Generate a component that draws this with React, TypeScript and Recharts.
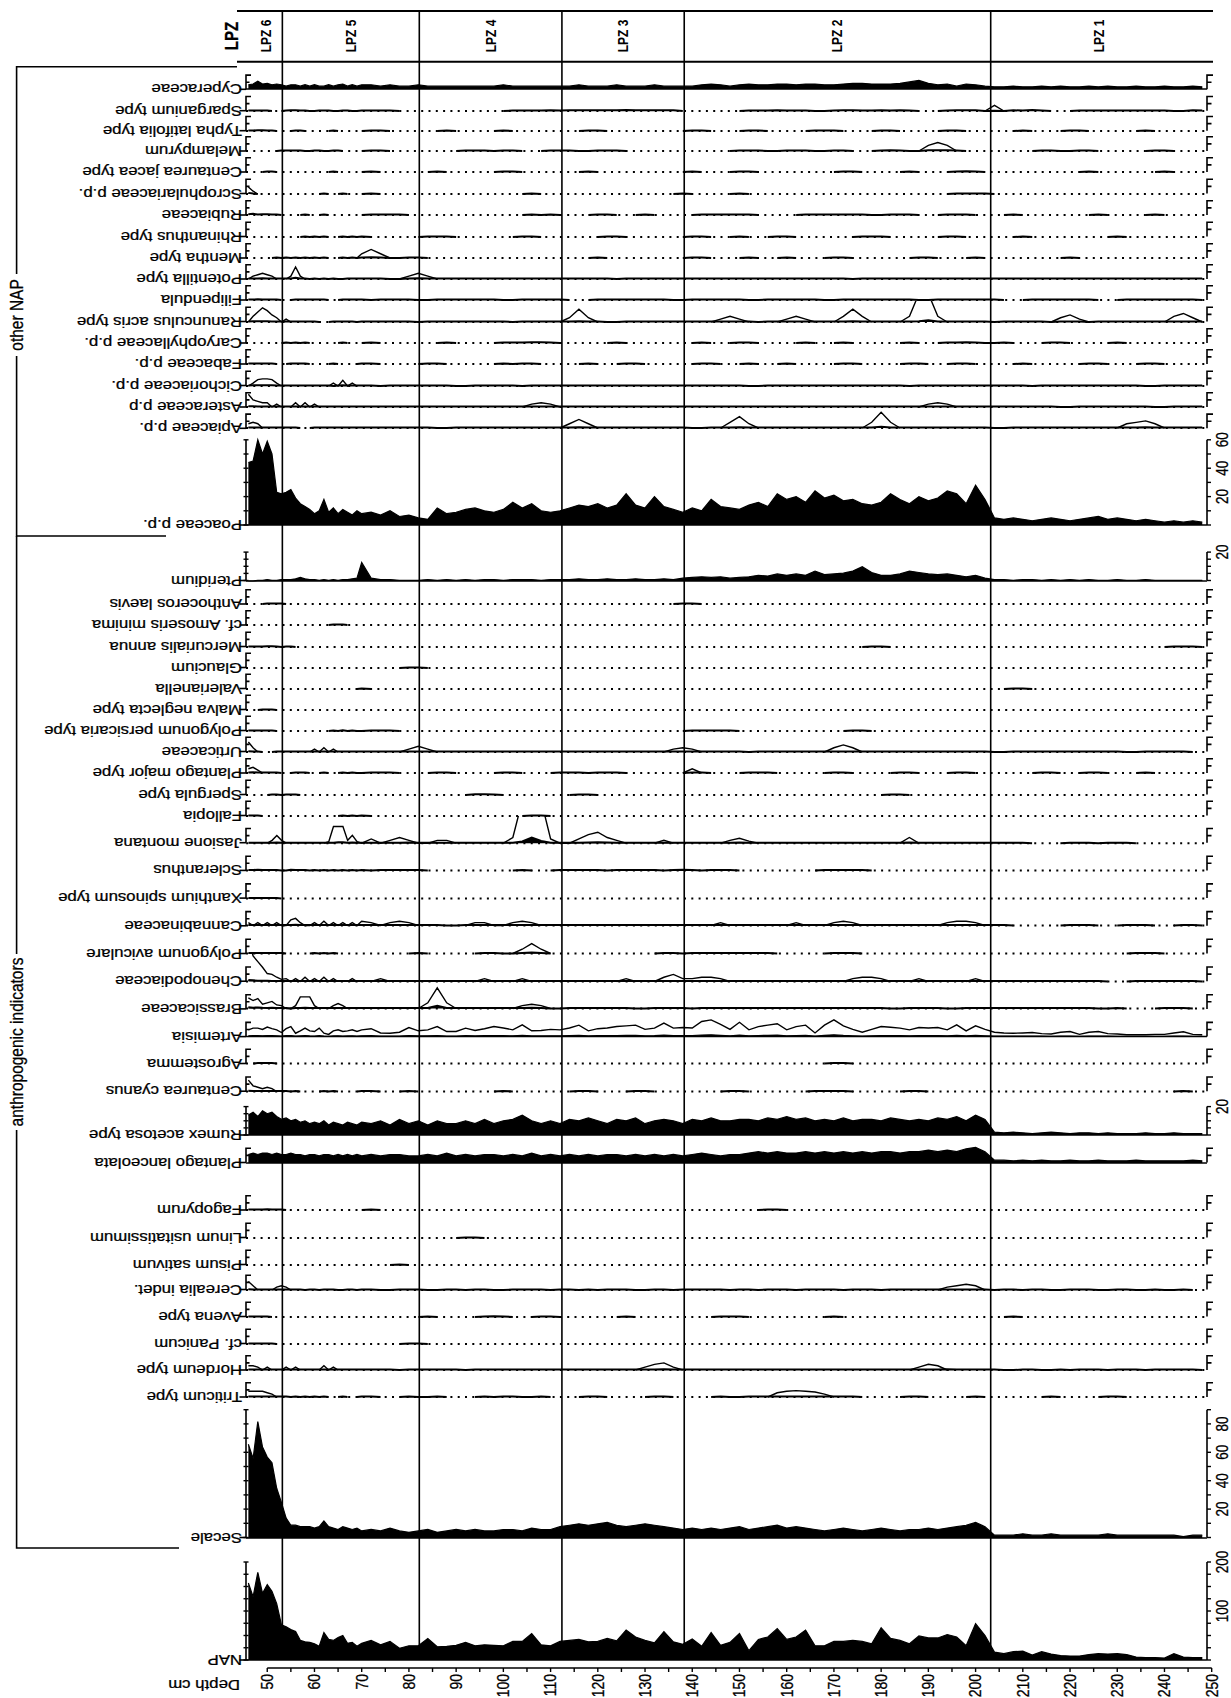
import React from "react";
import { AreaChart, Area, ComposedChart, XAxis, YAxis, ReferenceLine, ReferenceDot } from "recharts";

const FONT = '"Liberation Sans", Arial, Helvetica, sans-serif';
const SX = 1.2; // the figure is stretched horizontally
const W = 1231;
const H = 1698;
const LEFT_M = 246;
const RIGHT_M = 19.3;
const X_DOMAIN: [number, number] = [45.5, 250];
const LAST_DEPTH = 249;
const PCT = 1.42; // px per percent
const PAD = 3;
const AXIS_Y = 1668;

// sample depths (cm)
const DEPTHS = [
  46, 47, 48, 49, 50, 51, 52, 53, 54, 55, 56, 57, 58, 59, 60, 61, 62, 63, 64, 65, 66, 67, 68, 69, 70,
  72, 74, 76, 78, 80, 82, 84, 86, 88, 90, 92, 94, 96, 98, 100, 102, 104, 106, 108, 110,
  112, 114, 116, 118, 120, 122, 124, 126, 128, 130, 132, 134, 136, 138, 140, 142, 144, 146, 148, 150,
  152, 154, 156, 158, 160, 162, 164, 166, 168, 170, 172, 174, 176, 178, 180, 182, 184, 186, 188, 190,
  192, 194, 196, 198, 200, 202, 204, 206, 208, 210, 212, 214, 216, 218, 220, 222, 224, 226, 228, 230,
  232, 234, 236, 238, 240, 242, 244, 246, 248,
];

const DEPTH_TICKS = [
  50, 55, 60, 65, 70, 75, 80, 85, 90, 95, 100, 105, 110, 115, 120, 125, 130, 135, 140, 145, 150,
  155, 160, 165, 170, 175, 180, 185, 190, 195, 200, 205, 210, 215, 220, 225, 230, 235, 240, 245, 250,
];

const ZONE_BOUNDS = [53.2, 82.2, 112.4, 138.3, 203.2];
const ZONE_MIDS = [49.7, 67.7, 97.3, 125.3, 170.7, 226.1];
const ZONE_NAMES = ["LPZ 6", "LPZ 5", "LPZ 4", "LPZ 3", "LPZ 2", "LPZ 1"];

// ---------- continuous curves (one value per sample depth) ----------
const nap = [
  157, 129, 179, 136, 154, 140, 115, 72, 68, 62, 58, 40, 37, 36, 33, 28, 56, 42, 40, 46, 50, 34, 36, 28, 34,
  40, 31, 38, 24, 29, 29, 44, 27, 28, 30, 36, 29, 31, 30, 29, 38, 38, 54, 31, 29,
  38, 40, 42, 37, 38, 44, 39, 61, 47, 40, 35, 58, 37, 32, 43, 28, 56, 30, 36, 54,
  19, 42, 47, 64, 42, 47, 61, 29, 29, 38, 38, 40, 38, 33, 66, 44, 40, 33, 49, 45,
  45, 52, 47, 29, 74, 50, 16, 13, 17, 18, 10, 17, 12, 9, 8, 8, 11, 13, 12, 13,
  11, 6, 5, 5, 4, 13, 6, 5, 5,
];

const secale = [
  66, 56, 82, 64, 57, 53, 35, 25, 14, 9, 9, 8, 8, 8, 7, 8, 12, 8, 7, 6, 8, 7, 6, 7, 5,
  6, 5, 7, 5, 4, 5, 6, 4, 5, 6, 5, 6, 5, 5, 6, 6, 5, 7, 6, 6,
  8, 9, 10, 9, 10, 11, 9, 8, 9, 10, 9, 8, 7, 6, 7, 6, 7, 6, 7, 8,
  6, 7, 8, 9, 7, 8, 7, 6, 5, 6, 7, 6, 5, 6, 7, 6, 5, 6, 6, 7,
  6, 7, 8, 9, 11, 8, 2, 2, 2, 3, 2, 2, 3, 2, 2, 2, 2, 2, 3, 2,
  2, 2, 2, 2, 2, 2, 1, 2, 2,
];

const poaceae = [
  44, 45, 60, 50, 59, 50, 23, 22, 23, 25, 19, 15, 13, 11, 8, 10, 18, 9, 12, 8, 11, 9, 7, 10, 8,
  9, 7, 10, 6, 7, 5, 4, 12, 8, 9, 11, 12, 10, 9, 11, 16, 12, 15, 10, 9,
  10, 12, 14, 13, 15, 12, 14, 22, 14, 12, 20, 13, 11, 9, 12, 10, 18, 13, 12, 11,
  14, 16, 13, 22, 18, 20, 16, 24, 19, 21, 17, 18, 15, 14, 16, 22, 18, 15, 20, 17,
  19, 24, 22, 15, 28, 18, 5, 4, 5, 4, 3, 4, 5, 4, 3, 4, 5, 6, 4, 5,
  4, 3, 4, 3, 2, 3, 2, 3, 2,
];

const pteridium = [
  0, 0, 0.5, 0.5, 1, 0.5, 0.5, 1, 1, 1, 1.5, 2.5, 1.5, 1, 1, 0.5, 1, 0.5, 1, 0.5, 1, 1, 1.5, 2, 13,
  2, 1, 1, 0.5, 0.5, 0.5, 1, 0.5, 1, 0.5, 1, 0.5, 1, 1, 0.5, 1, 1, 1, 0.5, 1,
  1, 1, 1.5, 1, 1, 1.5, 1, 1, 1.5, 1, 1, 1.5, 1, 2, 2.5, 3, 2.5, 3, 2, 2.5,
  3, 4, 3.5, 5, 4, 5, 4, 7, 4.5, 5, 5.5, 7, 10, 6, 4, 4, 5, 7, 6, 5,
  4.5, 5, 4, 3, 4, 2, 1, 1, 0.5, 1, 1, 0.5, 1, 0.5, 1, 0.5, 1, 0.5, 0.5, 1,
  0.5, 0.5, 1, 0.5, 0.5, 0.5, 0.5, 0.5, 0.5,
];

const rumex = [
  14, 16, 13, 17, 15, 16, 13, 11, 12, 10, 11, 9, 10, 8, 9, 8, 10, 7, 9, 8, 7, 9, 8, 7, 9,
  8, 10, 7, 11, 8, 10, 7, 10, 8, 8, 10, 8, 11, 8, 10, 11, 14, 10, 8, 10,
  8, 11, 10, 12, 10, 8, 11, 10, 12, 8, 10, 11, 10, 8, 11, 10, 12, 10, 10, 11,
  11, 10, 12, 11, 13, 11, 12, 10, 11, 10, 12, 10, 11, 11, 10, 12, 11, 10, 11, 10,
  12, 11, 13, 10, 14, 11, 2, 1.5, 2, 1.5, 1, 1.5, 2, 1.5, 1, 1.5, 1.5, 1, 1.5, 1,
  1, 1, 1.5, 1, 1, 1.5, 1, 1, 1,
];

const plantagoLanc = [
  6, 7, 6, 7, 7, 6, 7, 6, 6, 7, 6, 6, 5, 6, 6, 5, 6, 6, 5, 6, 5, 6, 5, 6, 5,
  6, 5, 6, 6, 5, 5, 6, 5, 7, 5, 6, 5, 6, 6, 5, 6, 5, 7, 5, 6,
  5, 6, 5, 6, 5, 6, 6, 5, 6, 5, 6, 5, 6, 5, 6, 7, 6, 5, 6, 6,
  7, 8, 7, 8, 7, 7, 8, 7, 8, 7, 8, 7, 8, 7, 8, 8, 7, 8, 8, 9,
  8, 9, 8, 10, 11, 8, 2, 2, 1.5, 2, 1.5, 2, 1.5, 1.5, 2, 1.5, 1.5, 2, 1.5, 1.5,
  1.5, 2, 1.5, 1.5, 1.5, 1.5, 1.5, 2, 1.5,
];

const cyperaceae = [
  3, 3.5, 5.5, 3.5, 4, 3, 3.5, 3, 2, 3, 3, 2, 3, 2, 3, 2, 2, 3, 2, 3, 3.5, 2, 3, 2, 3,
  3, 2, 3, 2, 2, 3, 2, 2, 2, 2, 2, 2, 2, 2, 3, 2, 2, 2, 2, 2,
  2, 2, 3, 2, 2, 2, 3, 2, 2, 2, 3, 2, 2, 2, 2, 3, 3.5, 3, 2, 3,
  3.5, 3, 3, 3.5, 3.5, 3, 3.5, 3.5, 3, 3, 3.5, 4, 4, 3.5, 3.5, 3.5, 4, 5, 6, 4,
  3, 3.5, 2, 3.5, 3, 2, 1.5, 1.5, 2, 1.5, 1.5, 2, 1.5, 2, 1.5, 1.5, 2, 1.5, 2, 1.5,
  1.5, 2, 1.5, 1.5, 2, 1.5, 1.5, 2, 1.5,
];

const artemisia = [
  0.47, 0.59, 0.59, 0.5, 0.66, 0.55, 0.47, 0.28, 0.55, 0.7, 0.23, 0.4, 0.59, 0.4, 0.35, 0.59, 0.23, 0.15, 0.4, 0.47, 0.35, 0.4, 0.47, 0.35, 0.47,
  0.55, 0.25, 0.23, 0.3, 0.63, 0.4, 0.47, 0.7, 0.35, 0.35, 0.59, 0.42, 0.55, 0.7, 0.6, 0.47, 0.82, 0.4, 0.42, 0.5,
  0.47, 0.6, 0.8, 0.4, 0.55, 0.6, 0.7, 0.75, 0.8, 0.5, 0.59, 0.94, 0.59, 0.63, 0.6, 1.06, 1.17, 0.85, 0.5, 1.0,
  0.47, 0.7, 0.8, 0.9, 0.47, 0.7, 0.8, 0.25, 0.8, 1.17, 0.75, 0.5, 0.3, 0.5, 0.7, 0.65, 0.59, 0.47, 0.63, 0.6,
  0.63, 0.47, 0.82, 0.4, 0.75, 0.5, 0.3, 0.25, 0.23, 0.25, 0.28, 0.2, 0.18, 0.3, 0.35, 0.15, 0.3, 0.35, 0.2, 0.18,
  0.12, 0.12, 0.12, 0.15, 0.15, 0.25, 0.33, 0.15, 0.12,
];

// ---------- low-value taxa, full sample lists (0 = not found) ----------
const potentilla = [
  0.3, 0.4, 0.3, 0.5, 0.4, 0.3, 0.3, 0.3, 0.3, 0.4, 0.8, 0.4, 0.3, 0, 0.3, 0, 0.3, 0, 0.3, 0, 0, 0.3, 0.3, 0.3, 0.3,
  0.3, 0.3, 0, 0, 0.3, 0.5, 0.3, 0.3, 0.3, 0.3, 0.3, 0.3, 0.3, 0.3, 0.3, 0.3, 0.3, 0.3, 0.3, 0.3,
  0.3, 0.3, 0.3, 0.3, 0.3, 0.3, 0, 0.3, 0.3, 0.3, 0.3, 0.3, 0.3, 0.3, 0.3, 0.3, 0.3, 0.3, 0.3, 0.3,
  0.3, 0.3, 0.3, 0.3, 0.3, 0.3, 0.3, 0.3, 0.3, 0.3, 0.3, 0, 0.3, 0.3, 0.3, 0.3, 0.3, 0.3, 0.3, 0.3,
  0.3, 0.3, 0.3, 0.3, 0.3, 0.3, 0.3, 0.3, 0.3, 0.3, 0.3, 0.3, 0.3, 0.3, 0.3, 0.3, 0.3, 0.3, 0.3, 0.3,
  0.3, 0.3, 0.3, 0.3, 0.3, 0.3, 0.3, 0.3, 0.3,
];
const filipendula = [
  0.3, 0.3, 0.5, 0.3, 0.3, 0.3, 0.3, 0, 0, 0, 0.3, 0.3, 0.3, 0.3, 0.3, 0.3, 0.3, 0, 0, 0, 0.3, 0.3, 0.3, 0.3, 0.3,
  0, 0.3, 0.3, 0.3, 0.3, 0, 0, 0.3, 0.3, 0.3, 0.3, 0.3, 0.3, 0.3, 0, 0, 0.3, 0.3, 0.3, 0.3,
  0.3, 0, 0, 0, 0.3, 0.3, 0.3, 0.3, 0.3, 0.3, 0.3, 0.3, 0, 0, 0.3, 0.3, 0.3, 0.3, 0.3, 0.3,
  0, 0, 0.3, 0.3, 0.3, 0.3, 0.3, 0.3, 0, 0, 0.3, 0.3, 0.3, 0.3, 0.3, 0.3, 0.3, 0.3, 0, 0,
  0.3, 0.3, 0.3, 0.3, 0.3, 0.3, 0.3, 0, 0, 0, 0.3, 0.3, 0.3, 0.3, 0.3, 0.3, 0.3, 0, 0, 0,
  0.3, 0.3, 0.3, 0.3, 0.3, 0.3, 0.3, 0.3, 0,
];
const ranunculus = [
  0.4, 0.5, 0.6, 0.5, 0.5, 0.4, 0.4, 0.3, 0.3, 0.3, 0.4, 0.3, 0.3, 0.3, 0.3, 0, 0, 0, 0.3, 0.3, 0.3, 0.3, 0.3, 0, 0.3,
  0.3, 0.3, 0.3, 0.3, 0.3, 0, 0.3, 0.3, 0.3, 0.3, 0.3, 0.3, 0.3, 0.3, 0.3, 0, 0.3, 0.3, 0.3, 0.3,
  0.3, 0.3, 0.5, 0.3, 0.3, 0, 0, 0.3, 0.3, 0.3, 0.3, 0.3, 0.3, 0.3, 0.3, 0.3, 0.3, 0.3, 0.3, 0.4,
  0.3, 0, 0.3, 0.3, 0.3, 0.3, 0.3, 0.4, 0.3, 0.3, 0.3, 0.5, 0.4, 0.3, 0.3, 0.3, 0.3, 0.3, 0.6, 1.2,
  0.4, 0.3, 0.3, 0.3, 0.3, 0.3, 0, 0.3, 0.3, 0.3, 0.3, 0.3, 0, 0.3, 0.4, 0.3, 0, 0.3, 0.3, 0.3,
  0.3, 0.3, 0.3, 0.3, 0.3, 0.3, 0.4, 0.3, 0.3,
];
const cichoriaceae = [
  0.4, 0.5, 0.6, 0.6, 0.6, 0.5, 0.4, 0.4, 0.4, 0.3, 0.3, 0.3, 0.4, 0.3, 0.3, 0.3, 0.3, 0.3, 0, 0.4, 0.5, 0.4, 0.3, 0.3, 0.3,
  0.3, 0, 0.3, 0.3, 0.3, 0.3, 0.3, 0.3, 0.3, 0, 0, 0.3, 0.3, 0.3, 0.3, 0.3, 0, 0.3, 0.3, 0.3,
  0.3, 0.3, 0.3, 0.3, 0.3, 0.3, 0.3, 0.3, 0.3, 0.3, 0.3, 0.3, 0.3, 0.3, 0.3, 0.3, 0.3, 0.3, 0.3, 0.3,
  0, 0, 0.3, 0.3, 0.3, 0.3, 0.3, 0.3, 0.3, 0.3, 0.3, 0.3, 0.3, 0.3, 0.3, 0.3, 0.3, 0, 0.3, 0.3,
  0.3, 0.3, 0.3, 0.3, 0.3, 0.3, 0.3, 0.3, 0.3, 0.3, 0, 0.3, 0.3, 0.3, 0.3, 0.3, 0.3, 0.3, 0.3, 0.3,
  0.3, 0.3, 0, 0, 0.3, 0.3, 0.3, 0.3, 0.3,
];
const asteraceae = [
  0.6, 0.5, 0.4, 0.4, 0.4, 0.4, 0.3, 0.3, 0.3, 0.3, 0.4, 0.3, 0.4, 0.3, 0.3, 0.3, 0.3, 0.3, 0.3, 0.3, 0.3, 0.3, 0.3, 0.3, 0.3,
  0.3, 0.3, 0.3, 0.3, 0.3, 0.3, 0.3, 0.3, 0.3, 0.3, 0.3, 0.3, 0.3, 0.3, 0.3, 0.3, 0.3, 0.4, 0.3, 0.3,
  0.3, 0.3, 0.3, 0.3, 0.3, 0.3, 0.3, 0.3, 0.3, 0.3, 0.3, 0.3, 0.3, 0.3, 0.3, 0.3, 0.3, 0.3, 0.3, 0.3,
  0.3, 0.3, 0.3, 0.3, 0.3, 0.3, 0.3, 0.3, 0.3, 0.3, 0.3, 0.3, 0.3, 0.3, 0.3, 0.3, 0.3, 0.3, 0.3, 0.4,
  0.4, 0.3, 0.3, 0.3, 0.3, 0.3, 0.3, 0.3, 0.3, 0.3, 0.3, 0.3, 0.3, 0, 0, 0.3, 0.3, 0.3, 0.3, 0.3,
  0.3, 0.3, 0.3, 0, 0, 0.3, 0.3, 0.3, 0.3,
];
const apiaceae = [
  0.3, 0.4, 0.3, 0.3, 0.3, 0.3, 0.3, 0.3, 0.3, 0.3, 0.3, 0, 0, 0, 0.3, 0.3, 0.3, 0.3, 0.3, 0.3, 0.3, 0.3, 0.3, 0.3, 0.3,
  0.3, 0.3, 0.3, 0.3, 0.3, 0.3, 0.3, 0, 0, 0.3, 0.3, 0.3, 0.3, 0.3, 0.3, 0.3, 0.3, 0.3, 0.3, 0.3,
  0.3, 0.3, 0.5, 0.3, 0.3, 0.3, 0.3, 0.3, 0.3, 0.3, 0.3, 0.3, 0.3, 0.3, 0, 0, 0.3, 0.3, 0.3, 0.5,
  0.3, 0.3, 0.3, 0.3, 0.3, 0.3, 0.3, 0.3, 0.3, 0.3, 0.3, 0.3, 0.3, 0.3, 0.8, 0.3, 0.3, 0.3, 0.3, 0.3,
  0.3, 0.3, 0.3, 0.3, 0.3, 0.3, 0, 0, 0.3, 0.3, 0.3, 0.3, 0.3, 0.3, 0.3, 0.3, 0.3, 0.3, 0.3, 0.3,
  0.3, 0.3, 0.5, 0.3, 0.3, 0.3, 0.3, 0.3, 0.3,
];
const urticaceae = [
  0.6, 0.4, 0.3, 0, 0, 0, 0.3, 0.3, 0.3, 0.3, 0.3, 0.3, 0.3, 0.3, 0.3, 0.3, 0.4, 0.3, 0.3, 0.3, 0.3, 0.3, 0.3, 0.3, 0.3,
  0.3, 0.3, 0.3, 0.3, 0.3, 0.4, 0.3, 0.3, 0.3, 0.3, 0.3, 0.3, 0.3, 0.3, 0.3, 0.3, 0.3, 0.3, 0.3, 0.3,
  0.3, 0.3, 0.3, 0.3, 0.3, 0.3, 0.3, 0.3, 0.3, 0.3, 0.3, 0.3, 0.4, 0.3, 0.3, 0.3, 0.3, 0.3, 0.3, 0.3,
  0, 0.3, 0.3, 0.3, 0.3, 0.3, 0.3, 0.3, 0.3, 0.3, 0.4, 0.3, 0.3, 0.3, 0.3, 0.3, 0.3, 0.3, 0.3, 0.3,
  0.3, 0.3, 0.3, 0.3, 0.3, 0.3, 0, 0, 0.3, 0.3, 0.3, 0.3, 0.3, 0.3, 0.3, 0.3, 0.3, 0.3, 0.3, 0.3,
  0, 0, 0.3, 0.3, 0.3, 0.3, 0.3, 0, 0,
];
const jasione = [
  0.3, 0.3, 0.3, 0.3, 0.3, 0.3, 0.5, 0.3, 0.3, 0.3, 0.3, 0.3, 0.3, 0.3, 0.3, 0.3, 0.3, 0.3, 0.3, 0.6, 0.6, 0.3, 0.5, 0.3, 0.3,
  0.3, 0.3, 0.3, 0.3, 0.4, 0.3, 0.3, 0.3, 0.3, 0.3, 0.3, 0.3, 0.3, 0.3, 0.3, 0.3, 1.2, 4, 1.5, 0.3,
  0.3, 0.3, 0.3, 0.4, 0.6, 0.4, 0.3, 0.3, 0.3, 0.3, 0.3, 0.3, 0.3, 0.3, 0.3, 0.3, 0.3, 0.3, 0.3, 0.4,
  0.3, 0.3, 0.3, 0.3, 0.3, 0.3, 0.3, 0.3, 0.3, 0.3, 0.3, 0.3, 0.3, 0.3, 0.3, 0.3, 0.3, 0.4, 0.3, 0.3,
  0.3, 0.3, 0.3, 0.3, 0.3, 0.3, 0.3, 0.3, 0.3, 0.3, 0, 0, 0, 0, 0.3, 0.3, 0.3, 0, 0.3, 0.3,
  0.3, 0, 0, 0, 0, 0, 0, 0, 0,
];
const cannabinaceae = [
  0.3, 0.3, 0.3, 0.3, 0.3, 0.3, 0.3, 0.3, 0.3, 0.4, 0.5, 0.3, 0.3, 0.3, 0.3, 0.3, 0.3, 0.3, 0.3, 0.3, 0.3, 0.3, 0.3, 0.3, 0.3,
  0.3, 0.3, 0.3, 0.3, 0.3, 0.3, 0.3, 0.3, 0, 0, 0.3, 0.3, 0.3, 0.3, 0.3, 0.3, 0.3, 0.3, 0.3, 0.3,
  0.3, 0.3, 0.3, 0.3, 0.3, 0.3, 0.3, 0.3, 0.3, 0.3, 0.3, 0.3, 0.3, 0.3, 0.3, 0.3, 0.3, 0.3, 0.3, 0.3,
  0.3, 0.3, 0.3, 0.3, 0.3, 0.3, 0.3, 0.3, 0.3, 0.3, 0.3, 0.3, 0.3, 0.3, 0.3, 0.3, 0.3, 0.3, 0.3, 0.3,
  0.3, 0.3, 0.3, 0.3, 0.3, 0.3, 0.3, 0.3, 0, 0, 0, 0, 0, 0, 0.3, 0.3, 0.3, 0, 0, 0,
  0.3, 0.3, 0.3, 0, 0, 0, 0.3, 0.3, 0,
];
const chenopodiaceae = [
  1, 0.8, 0.6, 0.5, 0.5, 0.4, 0.4, 0.3, 0.3, 0.3, 0.4, 0.3, 0.3, 0.3, 0.3, 0.3, 0.3, 0.3, 0.3, 0.3, 0.3, 0.3, 0.3, 0.3, 0.3,
  0.3, 0.3, 0.3, 0.3, 0.3, 0.3, 0.3, 0.3, 0.3, 0.3, 0.3, 0.3, 0.3, 0.3, 0.3, 0.3, 0.3, 0.3, 0.3, 0.3,
  0.3, 0.3, 0.3, 0.3, 0.3, 0.3, 0.3, 0.3, 0.3, 0.3, 0.3, 0.3, 0.4, 0.3, 0.3, 0.3, 0.4, 0.3, 0.3, 0.3,
  0.3, 0.3, 0.3, 0.3, 0.3, 0.3, 0.3, 0.3, 0.3, 0.3, 0.3, 0.3, 0.3, 0.3, 0.3, 0.3, 0.3, 0.3, 0.3, 0.3,
  0.3, 0.3, 0.3, 0.3, 0.3, 0.3, 0.3, 0.3, 0.3, 0.3, 0.3, 0.3, 0.3, 0.3, 0.3, 0.3, 0.3, 0.3, 0, 0,
  0, 0.3, 0.3, 0.3, 0.3, 0.3, 0.3, 0.3, 0,
];
const brassicaceae = [
  0.8, 0.6, 0.7, 0.5, 0.4, 0.5, 0.4, 0.3, 0.3, 0, 0.3, 0.4, 0.5, 0.4, 0.3, 0.3, 0.3, 0.3, 0.3, 0.4, 0.3, 0.3, 0.3, 0.3, 0.3,
  0.3, 0.3, 0.3, 0.3, 0.3, 0.3, 0.4, 2, 0.4, 0.3, 0.3, 0.3, 0.3, 0.3, 0.3, 0.3, 0.3, 0.5, 0.3, 0,
  0, 0.3, 0.3, 0.3, 0.3, 0.3, 0.3, 0.3, 0, 0, 0.3, 0.3, 0.3, 0.3, 0, 0.3, 0.3, 0.3, 0.3, 0.3,
  0.3, 0.3, 0.3, 0.3, 0.3, 0.3, 0.3, 0.3, 0.3, 0.3, 0.3, 0.3, 0.3, 0.3, 0.3, 0, 0, 0.3, 0.3, 0.3,
  0.3, 0, 0, 0.3, 0.3, 0.3, 0.3, 0.3, 0.3, 0.3, 0.3, 0.3, 0.3, 0.3, 0.3, 0.3, 0.3, 0, 0, 0.3,
  0, 0, 0, 0, 0.3, 0.4, 0.3, 0, 0,
];
const cerealia = [
  0.5, 0.4, 0.3, 0.3, 0.3, 0.3, 0.3, 0.4, 0.3, 0.3, 0.3, 0.3, 0, 0.3, 0.3, 0, 0.3, 0.3, 0.3, 0, 0, 0.3, 0.3, 0, 0.3,
  0.3, 0, 0, 0.3, 0.3, 0.3, 0, 0, 0.3, 0.3, 0, 0.3, 0.3, 0, 0, 0.3, 0.4, 0.3, 0.3, 0,
  0.3, 0.3, 0, 0.3, 0, 0.3, 0.3, 0.3, 0, 0, 0.3, 0.3, 0, 0.3, 0.3, 0.3, 0.3, 0.3, 0, 0.3,
  0.3, 0, 0.3, 0.3, 0.3, 0, 0.3, 0.3, 0.3, 0.3, 0, 0.3, 0.3, 0.3, 0, 0.3, 0.3, 0.3, 0.3, 0.3,
  0.3, 0.3, 0.3, 0.3, 0.4, 0.3, 0, 0.3, 0.3, 0, 0.3, 0.3, 0, 0, 0.3, 0.3, 0.3, 0, 0, 0.3,
  0.3, 0, 0, 0.3, 0, 0, 0.3, 0, 0,
];
const hordeum = [
  0.4, 0.4, 0.3, 0.3, 0.3, 0.3, 0.3, 0.3, 0.3, 0.3, 0.3, 0.3, 0.3, 0.3, 0.3, 0.3, 0.4, 0.3, 0.3, 0.3, 0.3, 0.3, 0.3, 0.3, 0.3,
  0.3, 0.3, 0.3, 0, 0.3, 0.3, 0.3, 0.3, 0.3, 0.3, 0, 0.3, 0.3, 0.3, 0.3, 0.3, 0.3, 0.3, 0.3, 0.3,
  0.3, 0.3, 0.3, 0.3, 0.3, 0.3, 0.3, 0.3, 0.3, 0.3, 0.4, 0.5, 0.3, 0.3, 0.3, 0.3, 0.3, 0.3, 0.3, 0.3,
  0.3, 0.3, 0.3, 0.3, 0.3, 0.3, 0.3, 0.3, 0.3, 0.3, 0.3, 0.3, 0.3, 0.3, 0.3, 0.3, 0.3, 0.3, 0.4, 0.3,
  0.3, 0.5, 0.3, 0.3, 0.3, 0.3, 0.3, 0, 0, 0.3, 0.3, 0, 0, 0.3, 0, 0.3, 0.3, 0.3, 0, 0.3,
  0.3, 0.3, 0, 0.3, 0.3, 0.3, 0.3, 0.3, 0,
];

// ---------- rare taxa: [depth, %] where found ----------
const sparganiumP = [[46,.3],[47,.4],[48,.3],[49,.3],[50,.3],[54,.3],[55,.5],[56,.6],[57,.4],[58,.3],[61,.3],[62,.3],[63,.3],[66,.3],[67,.3],[70,.3],[72,.3],[74,.3],[76,.3],[102,.3],[104,.4],[106,.4],[108,.3],[110,.5],[112,.4],[114,.5],[116,.6],[118,.5],[120,.5],[122,.6],[124,.6],[126,.7],[128,.6],[130,.5],[132,.5],[134,.6],[136,.5],[152,.3],[154,.4],[156,.4],[158,.5],[160,.4],[162,.4],[164,.4],[170,.4],[172,.5],[174,.5],[176,.4],[178,.4],[180,.5],[182,.4],[184,.5],[186,.4],[194,.4],[196,.5],[198,.5],[200,.6],[204,.2],[208,.5],[210,.3],[212,.7],[214,.4],[222,.3],[224,.3],[226,.4],[228,.4],[230,.3],[232,.3],[234,.4],[236,.3],[238,.3],[240,.3],[246,.5],[248,.3]];
const typhaP = [[46,.3],[47,.4],[48,.6],[49,.5],[50,.4],[51,.3],[56,.3],[57,.3],[64,.3],[72,.3],[74,.3],[88,.3],[100,.3],[118,.3],[120,.3],[140,.3],[142,.3],[152,.3],[154,.3],[166,.3],[168,.3],[170,.3],[180,.3],[182,.3],[194,.3],[196,.3],[210,.3],[220,.3],[222,.3],[236,.3]];
const melampyrumP = [[53,.3],[54,.3],[55,.3],[56,.4],[57,.3],[60,.3],[61,.3],[64,.4],[65,.3],[72,.4],[74,.3],[92,.3],[94,.4],[96,.3],[100,.4],[102,.3],[110,.3],[112,.4],[114,.3],[120,.4],[122,.4],[124,.3],[150,.3],[152,.4],[154,.4],[160,.3],[162,.4],[164,.3],[170,.3],[172,.3],[180,.4],[182,.5],[184,.4],[190,.5],[192,.6],[194,.5],[196,.4],[214,.3],[216,.3],[222,.4],[224,.3],[238,.3],[240,.4]];
const centJaceaP = [[50,.4],[51,.3],[64,.3],[72,.3],[86,.3],[100,.3],[102,.3],[118,.3],[140,.3],[150,.3],[152,.3],[172,.3],[174,.3],[186,.3],[196,.4],[198,.5],[200,.4],[224,.3],[240,.3]];
const scrophP = [[46,.8],[47,.3],[62,.3],[66,.3],[72,.3],[106,.3],[138,.3],[150,.3],[196,.3],[198,.4],[200,.4],[202,.3]];
const rubiaceaeP = [[46,.5],[47,.8],[48,.4],[49,.5],[50,.6],[51,.4],[52,.3],[58,.3],[62,.3],[72,.3],[74,.3],[76,.4],[78,.3],[106,.3],[110,.3],[120,.3],[122,.3],[130,.3],[142,.3],[144,.3],[146,.3],[148,.3],[150,.3],[152,.3],[164,.3],[166,.4],[168,.3],[170,.3],[172,.3],[174,.3],[176,.3],[182,.3],[184,.3],[186,.3],[194,.3],[196,.3],[198,.3],[208,.3],[226,.3],[238,.3]];
const rhinanthusP = [[58,.3],[60,.3],[62,.3],[66,.3],[68,.3],[70,.3],[84,.3],[86,.3],[88,.3],[104,.3],[106,.3],[122,.3],[124,.3],[140,.3],[142,.3],[150,.3],[158,.3],[160,.3],[176,.3],[178,.3],[180,.3],[194,.3],[196,.3],[210,.3],[230,.3]];
const menthaP = [[52,.3],[54,.3],[56,.3],[58,.3],[60,.3],[62,.3],[66,.3],[68,.3],[70,.4],[72,.5],[74,.3],[80,.3],[82,.3],[120,.3],[140,.3],[142,.3],[152,.3],[160,.3],[170,.3],[172,.3],[188,.3],[190,.3],[200,.3],[220,.3]];
const caryoP = [[54,.3],[56,.4],[58,.3],[66,.3],[72,.3],[88,.3],[100,.3],[102,.3],[104,.4],[106,.5],[108,.5],[110,.3],[124,.3],[142,.3],[150,.3],[152,.3],[164,.3],[172,.3],[186,.3],[194,.3],[196,.4],[198,.5],[200,.4],[206,.3],[216,.3],[218,.3],[230,.3]];
const fabaceaeP = [[46,.3],[47,.3],[48,.3],[49,.3],[50,.3],[51,.3],[55,.3],[56,.3],[57,.3],[58,.3],[64,.3],[70,.3],[72,.3],[84,.3],[86,.3],[100,.3],[104,.3],[106,.3],[118,.3],[126,.3],[128,.3],[142,.3],[144,.3],[152,.3],[160,.3],[172,.3],[174,.3],[186,.3],[188,.3],[196,.4],[198,.3],[210,.3],[224,.3],[226,.3],[236,.3],[238,.3]];
const anthocerosP = [[50,.3],[51,.3],[52,.3],[53,.3],[138,.3],[140,.3]];
const amoserisP = [[64,.3],[65,.3],[66,.3]];
const mercurialisP = [[46,.3],[47,.3],[48,.3],[49,.4],[50,.6],[51,.5],[52,.3],[54,.3],[55,.3],[178,.3],[180,.3],[242,.3],[244,.4],[246,.3]];
const glauciumP = [[80,.3],[82,.3]];
const valerianellaP = [[70,.3],[208,.3],[210,.3]];
const malvaP = [[49,.3],[50,.3],[51,.3]];
const persicariaP = [[46,.3],[47,.3],[48,.4],[49,.3],[50,.3],[51,.3],[64,.3],[66,.5],[68,.4],[72,.3],[74,.3],[76,.3],[140,.3],[142,.4],[144,.3],[146,.3],[148,.3],[174,.3],[176,.3]];
const plantMajorP = [[46,.4],[47,.5],[48,.3],[49,.4],[50,.3],[51,.3],[52,.3],[56,.3],[57,.3],[58,.3],[62,.3],[66,.3],[68,.3],[72,.3],[74,.3],[76,.3],[86,.3],[88,.3],[100,.3],[102,.3],[112,.3],[114,.3],[116,.3],[120,.3],[122,.3],[124,.3],[140,.4],[142,.3],[152,.3],[154,.3],[156,.3],[170,.3],[172,.3],[184,.3],[186,.3],[196,.3],[198,.3],[214,.3],[216,.3],[224,.4],[226,.3],[236,.3]];
const spergulaP = [[51,.3],[52,.3],[54,.3],[55,.3],[56,.3],[94,.5],[96,.6],[98,.3],[116,.3],[118,.3],[182,.3],[184,.3]];
const fallopiaP = [[46,.3],[47,.3],[48,.3],[66,.3],[68,.3],[70,.3],[106,.3],[108,.3]];
const scleranthusP = [[46,.3],[47,.4],[48,.6],[49,.4],[50,.3],[51,.3],[52,.3],[55,.6],[56,.3],[57,.3],[58,.3],[60,.3],[62,.3],[64,.3],[66,.3],[68,.3],[70,.3],[74,.4],[76,.4],[78,.3],[80,.3],[82,.3],[104,.3],[112,.3],[114,.3],[116,.3],[118,.3],[120,.3],[124,.3],[126,.3],[128,.3],[130,.3],[132,.3],[136,.4],[138,.6],[140,.3],[144,.3],[146,.3],[148,.3],[168,.3],[170,.3],[172,.3],[174,.3],[176,.3]];
const xanthiumP = [[46,.3],[47,.3],[48,.3],[49,.3],[50,.3],[51,.3],[52,.3]];
const avicP = [[46,.3],[47,.4],[48,.3],[49,.3],[50,.3],[51,.3],[52,.3],[53,.3],[60,.3],[62,.3],[64,.3],[82,.3],[96,.3],[98,.3],[104,.3],[106,.7],[108,.3],[134,.3],[136,.3],[140,.3],[142,.3],[144,.3],[146,.3],[148,.3],[150,.3],[152,.3],[154,.3],[156,.3],[170,.3],[172,.4],[174,.3],[234,.3],[236,.3],[238,.3]];
const agrostemmaP = [[48,.3],[49,.3],[50,.3],[51,.3],[170,.3],[172,.3]];
const cyanusP = [[46,.5],[47,.4],[48,.4],[49,.3],[50,.3],[51,.3],[52,.3],[53,.3],[54,.3],[56,.3],[62,.3],[64,.3],[70,.3],[72,.3],[80,.3],[100,.3],[116,.3],[118,.3],[128,.3],[130,.3],[148,.3],[150,.3],[166,.3],[168,.3],[170,.4],[172,.3],[186,.3],[188,.3],[244,.3]];
const fagopyrumP = [[46,.3],[47,.3],[48,.4],[49,.3],[50,.5],[51,.3],[52,.3],[53,.3],[72,.3],[156,.3],[158,.3]];
const linumP = [[92,.3],[94,.3]];
const pisumP = [[78,.3]];
const avenaP = [[46,.3],[47,.3],[48,.4],[49,.3],[50,.3],[84,.3],[96,.3],[98,.5],[100,.3],[108,.3],[110,.3],[126,.3],[146,.3],[148,.3],[150,.3],[170,.3],[208,.3]];
const panicumP = [[46,.3],[47,.3],[48,.3],[49,.3],[50,.3],[51,.3],[80,.3],[82,.3]];
const triticumP = [[46,.4],[47,.4],[48,.4],[49,.3],[50,.3],[51,.3],[52,.3],[53,.3],[54,.3],[56,.3],[58,.3],[60,.4],[62,.3],[66,.3],[70,.3],[72,.3],[80,.3],[86,.3],[96,.3],[100,.3],[102,.3],[108,.3],[118,.3],[120,.3],[132,.3],[134,.3],[146,.3],[152,.3],[154,.3],[156,.3],[158,.4],[160,.4],[162,.4],[164,.4],[166,.4],[168,.3],[170,.3],[172,.3],[174,.3],[186,.3],[188,.3],[200,.3],[216,.3],[228,.3],[230,.3]];

// ---------- exaggerated outlines (already x10), [depth, %] ----------
const sparganiumX = [[204, 4]];
const melampyrumX = [[190, 4], [192, 6], [194, 4]];
const scrophX = [[46, 5], [47, 2]];
const menthaX = [[70, 3], [72, 6], [74, 3]];
const potentillaX = [[47,2],[48,3],[49,4],[50,3],[51,2],[55,2],[56,8.5],[57,2],[80,2],[82,4],[84,2]];
const ranunculusX = [[47,4],[48,7],[49,10],[50,8],[51,5],[52,3],[54,2],[114,3],[116,9],[118,3],[146,2],[148,4],[150,2],[160,2],[162,4],[164,2],[172,4],[174,9],[176,4],[186,4],[188,20],[190,20],[192,4],[218,3],[220,5],[222,2],[242,4],[244,6],[246,3]];
const cichoriaceaeX = [[47,2],[48,4.5],[49,5],[50,5],[51,4.5],[52,2],[64,2],[66,4],[68,2]];
const asteraceaeX = [[46,9],[47,5],[48,4],[49,3],[50,3],[52,2],[56,3],[58,3],[60,2],[106,2],[108,3],[110,2],[190,2],[192,3],[194,2]];
const apiaceaeX = [[46,3],[47,4],[48,3],[114,3],[116,6],[118,3],[148,4],[150,8],[152,3],[178,4],[180,11],[182,4],[232,3],[234,4],[236,5],[238,3]];
const urticaceaeX = [[46,7],[47,3],[60,2],[62,3],[64,2],[80,2],[82,4],[84,2],[136,2],[138,3],[140,2],[170,3],[172,5],[174,3]];
const plantMajorX = [[46, 3], [47, 4], [48, 2], [140, 3]];
const jasioneX = [[51,2],[52,5.4],[53,2],[63,1],[64,11.8],[65,11.8],[66,11.8],[67,2],[68,5.5],[69,1],[72,3],[76,2],[78,4],[80,2],[86,2],[88,2],[102,4],[104,30],[106,40],[108,30],[110,3],[116,3],[118,6],[120,7.7],[122,4],[124,2],[134,2],[148,2],[150,3.5],[152,1.5],[186,4]];
const cannabinaceaeX = [[46,2],[48,2],[50,2],[52,2],[55,4],[56,5],[57,2],[60,2],[62,3],[64,2],[66,2],[68,2],[70,3],[72,2],[76,2],[78,3],[80,2],[94,2],[96,2],[102,2],[104,3],[106,2],[146,2],[162,2],[170,2],[172,3],[174,2],[194,2],[196,3],[198,3],[200,2]];
const avicX = [[104, 3], [106, 7], [108, 3]];
const chenopodiaceaeX = [[46,30],[47,18],[48,14],[49,10],[50,5.6],[51,5],[52,3],[53,1.5],[54,2],[56,2],[58,3],[60,2],[62,3],[64,2],[68,2],[74,2],[96,2],[104,2],[126,2],[134,3],[136,5],[138,2],[140,2],[142,3],[144,3],[146,2],[174,2],[176,3],[178,3],[180,2],[188,2],[200,2]];
const brassicaceaeX = [[46,7.5],[47,5.6],[48,7],[49,3],[50,4],[51,5],[52,2.5],[53,2],[56,2],[57,8.2],[58,8.2],[59,8.2],[60,2],[64,2],[65,3.5],[66,2],[84,4],[86,14.6],[88,4],[104,2],[106,3],[108,2]];
const cyanusX = [[46, 8], [47, 4], [48, 3], [49, 2], [50, 3], [51, 2]];
const cerealiaX = [[46,6],[47,3],[52,2],[53,3],[54,2],[194,2],[196,3],[198,4],[200,3]];
const hordeumX = [[46,3],[47,3],[48,2],[50,2],[54,2],[56,2],[62,3],[64,2],[130,2],[132,4],[134,5],[136,2],[188,2],[190,4],[192,3]];
const triticumX = [[46,4],[47,4],[48,4],[49,4],[50,3],[51,2],[158,3],[160,4],[162,4.5],[164,4],[166,3.5],[168,2]];

function fromPairs(pairs: number[][]): number[] {
  const m = new Map<number, number>();
  pairs.forEach(([d, v]) => m.set(d, v));
  return DEPTHS.map((d) => m.get(d) ?? 0);
}

type Axis = { max: number; step: number; labels: number[] };
type Strip = {
  name: string;
  base: number;
  h: number;
  vals: number[];
  exag?: number[];
  trace?: boolean;
  px?: number;
  axis?: Axis;
};

const T = (name: string, base: number, h: number, vals: number[], exag?: number[]): Strip => ({
  name, base, h, vals, exag, trace: true,
});

const STRIPS: Strip[] = [
  { name: "Cyperaceae", base: 89.3, h: 21, vals: cyperaceae },
  T("Sparganium type", 110.7, 21, fromPairs(sparganiumP), fromPairs(sparganiumX)),
  T("Typha latifolia type", 130.7, 21, fromPairs(typhaP)),
  T("Melampyrum", 151, 21, fromPairs(melampyrumP), fromPairs(melampyrumX)),
  T("Centaurea jacea type", 172, 21, fromPairs(centJaceaP)),
  T("Scrophulariaceae p.p.", 193.5, 21, fromPairs(scrophP), fromPairs(scrophX)),
  T("Rubiaceae", 215, 21, fromPairs(rubiaceaeP)),
  T("Rhinanthus type", 236.5, 21, fromPairs(rhinanthusP)),
  T("Mentha type", 258, 21, fromPairs(menthaP), fromPairs(menthaX)),
  T("Potentilla type", 279, 21, potentilla, fromPairs(potentillaX)),
  T("Filipendula", 300, 21, filipendula),
  T("Ranunculus acris type", 321.5, 21, ranunculus, fromPairs(ranunculusX)),
  T("Caryophyllaceae p.p.", 343, 21, fromPairs(caryoP)),
  T("Fabaceae p.p.", 364, 21, fromPairs(fabaceaeP)),
  T("Cichoriaceae p.p.", 385.5, 21, cichoriaceae, fromPairs(cichoriaceaeX)),
  T("Asteraceae p.p", 407, 21, asteraceae, fromPairs(asteraceaeX)),
  T("Apiaceae p.p.", 428.3, 21, apiaceae, fromPairs(apiaceaeX)),
  { name: "Poaceae p.p.", base: 525, h: 92, vals: poaceae, axis: { max: 60, step: 10, labels: [20, 40, 60] } },
  { name: "Pteridium", base: 580.5, h: 40, vals: pteridium, axis: { max: 20, step: 5, labels: [20] } },
  T("Anthoceros laevis", 604, 21, fromPairs(anthocerosP)),
  T("cf. Amoseris minima", 625, 21, fromPairs(amoserisP)),
  T("Mercurialis annua", 646.5, 21, fromPairs(mercurialisP)),
  T("Glaucium", 667.5, 21, fromPairs(glauciumP)),
  T("Valerianella", 688.5, 21, fromPairs(valerianellaP)),
  T("Malva neglecta type", 709.5, 21, fromPairs(malvaP)),
  T("Polygonum persicaria type", 730.5, 21, fromPairs(persicariaP)),
  T("Urticaceae", 751.5, 21, urticaceae, fromPairs(urticaceaeX)),
  T("Plantago major type", 773, 21, fromPairs(plantMajorP), fromPairs(plantMajorX)),
  T("Spergula type", 794.5, 21, fromPairs(spergulaP)),
  T("Fallopia", 815.5, 21, fromPairs(fallopiaP)),
  T("Jasione montana", 842.7, 27.2, jasione, fromPairs(jasioneX)),
  T("Scleranthus", 870.4, 27.5, fromPairs(scleranthusP)),
  T("Xanthium spinosum type", 898.1, 27.5, fromPairs(xanthiumP)),
  T("Cannabinaceae", 925.8, 27.5, cannabinaceae, fromPairs(cannabinaceaeX)),
  T("Polygonum aviculare", 953.5, 27.5, fromPairs(avicP), fromPairs(avicX)),
  T("Chenopodiaceae", 981.2, 27.5, chenopodiaceae, fromPairs(chenopodiaceaeX)),
  T("Brassicaceae", 1008.9, 27.5, brassicaceae, fromPairs(brassicaceaeX)),
  { name: "Artemisia", base: 1036.6, h: 27.5, vals: artemisia, exag: artemisia.map((v) => v * 10) },
  T("Agrostemma", 1063.5, 27.5, fromPairs(agrostemmaP)),
  T("Centaurea cyanus", 1091.2, 27.5, fromPairs(cyanusP), fromPairs(cyanusX)),
  { name: "Rumex acetosa type", base: 1135, h: 40, vals: rumex, axis: { max: 20, step: 5, labels: [20] } },
  { name: "Plantago lanceolata", base: 1162.5, h: 27, vals: plantagoLanc },
  T("Fagopyrum", 1210, 26, fromPairs(fagopyrumP)),
  T("Linum usitatissimum", 1237.5, 26, fromPairs(linumP)),
  T("Pisum sativum", 1264.5, 26, fromPairs(pisumP)),
  T("Cerealia indet.", 1289.5, 25, cerealia, fromPairs(cerealiaX)),
  T("Avena type", 1316.5, 26, fromPairs(avenaP)),
  T("cf. Panicum", 1343.5, 26, fromPairs(panicumP)),
  T("Hordeum type", 1370, 26, hordeum, fromPairs(hordeumX)),
  T("Triticum type", 1397, 26, fromPairs(triticumP), fromPairs(triticumX)),
  { name: "Secale", base: 1537.5, h: 135, vals: secale, axis: { max: 90, step: 10, labels: [20, 40, 60, 80] } },
  { name: "NAP", base: 1660, h: 115, vals: nap, px: 0.49, axis: { max: 200, step: 25, labels: [100, 200] } },
];

// keep a sample on the curve only where it or a neighbour was found
function traceMask(vals: number[], i: number): number | null {
  const here = vals[i] > 0;
  const prev = i > 0 && vals[i - 1] > 0;
  const next = i < vals.length - 1 && vals[i + 1] > 0;
  return here || prev || next ? vals[i] : null;
}

function Rot({ x, y, angle, size, bold, anchor, children }: any) {
  return (
    <g transform={`translate(${x},${y}) scale(${SX},1) rotate(${angle})`}>
      <text
        x={0}
        y={0}
        textAnchor={anchor}
        dy={angle === -90 ? "0.35em" : 0}
        fontSize={size}
        fontWeight={bold ? "bold" : "normal"}
        fill="#000"
        stroke="#000"
        strokeWidth={0.25}
      >
        {children}
      </text>
    </g>
  );
}

function StripDecor({ s }: { s: Strip }) {
  const b = s.base;
  const px = s.px ?? PCT;
  const els: React.ReactNode[] = [];
  els.push(<Rot key="lab" x={242} y={b - 5} angle={180} size={14} anchor="start">{s.name}</Rot>);
  els.push(<line key="hook" x1={239.5} y1={b} x2={246} y2={b} stroke="#000" strokeWidth={1.6} />);
  if (s.axis) {
    const top = b - s.axis.max * px;
    els.push(<line key="la" x1={246} y1={b} x2={246} y2={top} stroke="#000" strokeWidth={1.6} />);
    els.push(<line key="ra" x1={1207} y1={b} x2={1207} y2={top} stroke="#000" strokeWidth={1.6} />);
    for (let v = 0; v <= s.axis.max + 1e-6; v += s.axis.step) {
      const y = b - v * px;
      els.push(<line key={`lt${v}`} x1={243.5} y1={y} x2={248.5} y2={y} stroke="#000" strokeWidth={1.4} />);
      els.push(<line key={`rt${v}`} x1={1207} y1={y} x2={1211} y2={y} stroke="#000" strokeWidth={1.4} />);
    }
    s.axis.labels.forEach((v) => {
      els.push(
        <Rot key={`rl${v}`} x={1222} y={b - v * px} angle={-90} size={13.5} anchor="middle">
          {v}
        </Rot>
      );
    });
  } else {
    const t = b - 14.2;
    const m = b - 7.1;
    els.push(
      <path key="lf" d={`M246,${b} V${t} H251 M246,${m} H249.5`} fill="none" stroke="#000" strokeWidth={1.6} />
    );
    els.push(
      <path key="rf" d={`M1207,${b} V${t} H1213 M1207,${m} H1211.5`} fill="none" stroke="#000" strokeWidth={1.6} />
    );
  }
  return <g>{els}</g>;
}

function Decor() {
  return (
    <svg width={W} height={H} style={{ position: "absolute", left: 0, top: 0 }}>
      <line x1={237} y1={11} x2={1213} y2={11} stroke="#000" strokeWidth={2} />
      <line x1={237} y1={61.7} x2={1213} y2={61.7} stroke="#000" strokeWidth={2} />
      <Rot x={232} y={36} angle={-90} size={15} bold anchor="middle">LPZ</Rot>

      <path d="M237,66.7 H16.6 V536 H166" fill="none" stroke="#000" strokeWidth={1.6} />
      <path d="M16.6,536 V1548 H179" fill="none" stroke="#000" strokeWidth={1.6} />
      <rect x={6} y={274} width={22} height={82} fill="#fff" />
      <Rot x={16.6} y={315} angle={-90} size={15.5} anchor="middle">other NAP</Rot>
      <rect x={6} y={954} width={22} height={176} fill="#fff" />
      <Rot x={16.6} y={1042} angle={-90} size={15.5} anchor="middle">anthropogenic indicators</Rot>

      {STRIPS.map((s) => (
        <StripDecor key={s.name} s={s} />
      ))}
      <Rot x={240} y={1680} angle={180} size={14} anchor="start">Depth cm</Rot>
    </svg>
  );
}

function StripChart({ s }: { s: Strip }) {
  const px = s.px ?? PCT;
  const data = DEPTHS.map((d, i) => ({
    depth: d,
    v: s.trace ? traceMask(s.vals, i) : s.vals[i],
    e: s.exag ? traceMask(s.exag, i) : null,
  }));
  const seg = [
    { x: X_DOMAIN[0], y: 0 },
    { x: LAST_DEPTH, y: 0 },
  ];
  return (
    <div style={{ position: "absolute", left: 0, top: s.base - s.h }}>
      <AreaChart
        width={W}
        height={s.h + PAD}
        data={data}
        margin={{ top: 0, right: RIGHT_M, bottom: 0, left: LEFT_M }}
      >
        <XAxis hide type="number" dataKey="depth" domain={X_DOMAIN} allowDataOverflow />
        <YAxis hide type="number" domain={[-PAD / px, s.h / px]} allowDataOverflow />
        <ReferenceLine
          segment={seg}
          stroke="#000"
          strokeWidth={s.trace ? 2 : 1.6}
          strokeDasharray={s.trace ? "2 5.3" : undefined}
        />
        {s.exag && (
          <Area
            type="linear"
            dataKey="e"
            stroke="#000"
            strokeWidth={1.4}
            fill="none"
            baseValue={0}
            dot={false}
            activeDot={false}
            isAnimationActive={false}
          />
        )}
        <Area
          type="linear"
          dataKey="v"
          stroke="#000"
          strokeWidth={s.trace ? 2 : 1.2}
          fill="#000"
          fillOpacity={1}
          baseValue={0}
          dot={false}
          activeDot={false}
          isAnimationActive={false}
        />
      </AreaChart>
    </div>
  );
}

function DepthTick(props: any) {
  const { x, y, payload } = props;
  if (payload.value % 10 !== 0) return <g />;
  return (
    <g transform={`translate(${x},${y}) scale(${SX},1) rotate(-90)`}>
      <text textAnchor="end" dy="0.35em" fontSize={14} fill="#000" stroke="#000" strokeWidth={0.25}>
        {payload.value}
      </text>
    </g>
  );
}

const AXIS_ROWS = DEPTHS.map((d) => ({ depth: d }));

function Overlay() {
  return (
    <div style={{ position: "absolute", left: 0, top: 0 }}>
      <ComposedChart
        width={W}
        height={H}
        data={AXIS_ROWS}
        margin={{ top: 0, right: RIGHT_M, bottom: 0, left: LEFT_M }}
      >
        <XAxis
          type="number"
          dataKey="depth"
          domain={X_DOMAIN}
          allowDataOverflow
          ticks={DEPTH_TICKS}
          interval={0}
          tickSize={4}
          axisLine={false}
          tickLine={{ stroke: "#000", strokeWidth: 1.4 }}
          tick={DepthTick}
          height={H - AXIS_Y}
        />
        <YAxis hide type="number" domain={[0, AXIS_Y]} reversed allowDataOverflow />
        {ZONE_BOUNDS.map((b) => (
          <ReferenceLine
            key={b}
            segment={[
              { x: b, y: 11 },
              { x: b, y: 1660 },
            ]}
            stroke="#000"
            strokeWidth={1.6}
          />
        ))}
        <ReferenceLine
          segment={[
            { x: 50, y: AXIS_Y },
            { x: 250, y: AXIS_Y },
          ]}
          stroke="#000"
          strokeWidth={1.6}
        />
        {ZONE_MIDS.map((m, i) => (
          <ReferenceDot
            key={m}
            x={m}
            y={36}
            r={1}
            shape={(p: any) => (
              <g transform={`translate(${p.cx},${p.cy}) scale(${SX},1) rotate(-90)`}>
                <text textAnchor="middle" dy="0.35em" fontSize={12} fontWeight="bold" fill="#000">
                  {ZONE_NAMES[i]}
                </text>
              </g>
            )}
          />
        ))}
      </ComposedChart>
    </div>
  );
}

export default function App() {
  return (
    <div
      style={{
        position: "absolute",
        left: 0,
        top: 0,
        width: W,
        height: H,
        background: "#fff",
        fontFamily: FONT,
        overflow: "hidden",
      }}
    >
      <Decor />
      {STRIPS.map((s) => (
        <StripChart key={s.name} s={s} />
      ))}
      <Overlay />
    </div>
  );
}
